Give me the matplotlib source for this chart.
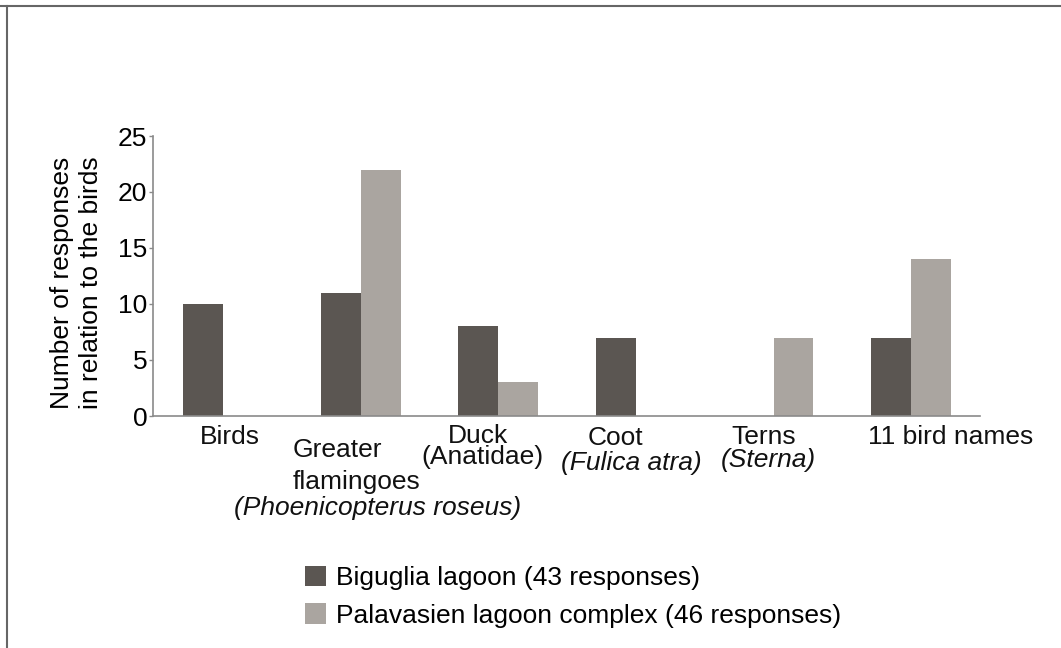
import numpy as np
import matplotlib
matplotlib.use("Agg")
import matplotlib.pyplot as plt
from matplotlib.lines import Line2D
from matplotlib.patches import Patch
import matplotlib.transforms as mtransforms

# data
categories = ["Birds", "Greater flamingoes", "Duck", "Coot", "Terns", "11 bird names"]
biguglia = [10, 11, 8, 7, 0, 7]
palavasien = [0, 22, 3, 0, 7, 14]
series_names = ["Biguglia lagoon (43 responses)",
                "Palavasien lagoon complex (46 responses)"]
yticks = [0, 5, 10, 15, 20, 25]

# label lines per category: (text, italic, x offset px, y px below axis)
label_lines = [
    [("Birds", False, 7, 21)],
    [("Greater", False, -23, 34), ("flamingoes", False, -4, 66),
     ("(Phoenicopterus roseus)", True, 17, 92)],
    [("Duck", False, -20, 20), ("(Anatidae)", False, -16, 41)],
    [("Coot", False, -21, 22), ("(Fulica atra)", True, -5, 47)],
    [("Terns", False, -10, 21), ("(Sterna)", True, -5, 44)],
    [("11 bird names", False, 39, 21)],
]

dark = "#5b5652"
light = "#aaa5a0"
spine_col = "#8a8a8a"
FS = 19

plt.rcParams["font.family"] = ["Liberation Sans", "DejaVu Sans"]

fig = plt.figure(figsize=(10.61, 6.48), dpi=100)
ax = fig.add_axes([153 / 1061, 1 - 416 / 648, (980 - 153) / 1061, 280 / 648])

x = np.arange(len(categories))
w = 0.29
ax.bar(x - w / 2, biguglia, w, color=dark, label=series_names[0])
ax.bar(x + w / 2, palavasien, w, color=light, label=series_names[1])

ax.set_xlim(-0.51, 5.5)
ax.set_ylim(0, 25)
ax.set_yticks(yticks)
ax.set_yticklabels([str(v) for v in yticks], fontsize=FS)
ax.set_xticks([])
ax.tick_params(axis="y", length=3, width=1, color=spine_col, pad=1)
for s in ["top", "right"]:
    ax.spines[s].set_visible(False)
for s in ["left", "bottom"]:
    ax.spines[s].set_color(spine_col)
    ax.spines[s].set_linewidth(1.2)

ax.set_ylabel("Number of responses\nin relation to the birds", fontsize=FS,
              linespacing=1.3)
ax.yaxis.set_label_coords(-0.060, 0.475)

# category labels
for i, lines in enumerate(label_lines):
    for txt, it, dx, dy in lines:
        tr = mtransforms.offset_copy(ax.get_xaxis_transform(), fig=fig,
                                     x=dx, y=-dy, units="dots")
        ax.text(x[i], 0, txt, transform=tr, ha="center", va="center",
                fontsize=FS, style="italic" if it else "normal", color="#111111")

# legend
handles = [Patch(facecolor=dark, edgecolor="none"),
           Patch(facecolor=light, edgecolor="none")]
fig.legend(handles, series_names, loc="upper left",
           bbox_to_anchor=(305 / 1061, 1 - 566 / 648), frameon=False,
           fontsize=FS, handlelength=0.8, handleheight=0.8, handletextpad=0.38,
           labelspacing=0.5, borderpad=0, borderaxespad=0)

# figure border (top and left)
fig.add_artist(Line2D([0, 1], [1 - 6 / 648, 1 - 6 / 648], color="#666666", lw=1.5))
fig.add_artist(Line2D([7 / 1061, 7 / 1061], [0, 1 - 6 / 648], color="#666666", lw=1.5))

fig.savefig("out.png", dpi=100, facecolor="white")
